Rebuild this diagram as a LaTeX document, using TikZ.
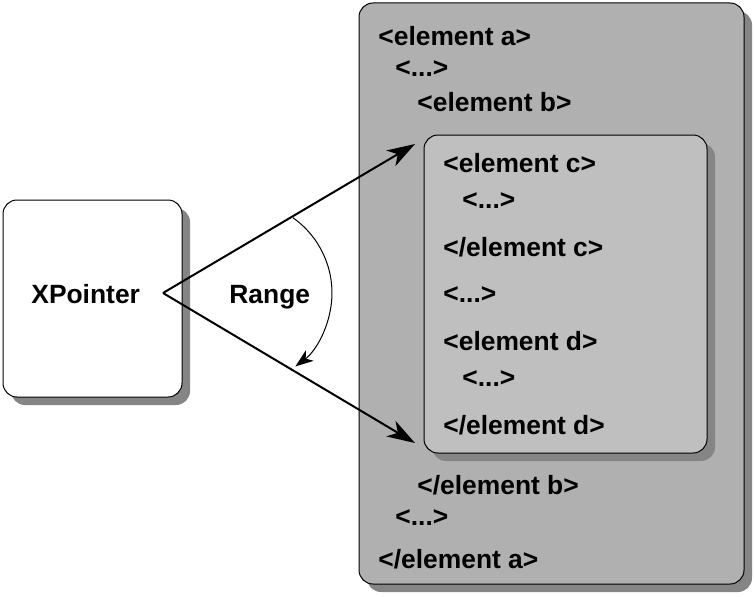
\documentclass[tikz,border=0pt]{standalone}
\usepackage{fontspec}
\setmainfont{Liberation Sans}
\usetikzlibrary{shapes,arrows,arrows.meta,shadows}
\definecolor{docfill}{gray}{0.69}
\definecolor{rangefill}{gray}{0.75}
\definecolor{shade}{gray}{0.52}
\tikzstyle{frame} = [rectangle, draw, line width=0.5pt, rounded corners=7pt,
	drop shadow={shadow xshift=4pt, shadow yshift=-4pt, fill=shade, opacity=1}]
\tikzstyle{tag} = [anchor=base west, inner sep=0pt, font=\fontsize{13.2}{15}\selectfont\bfseries]
\tikzstyle{line} = [draw, line width=1pt, -{Stealth[length=14pt, width=9pt, inset=4pt]}]
\tikzstyle{sweep} = [draw, line width=0.5pt, -{Stealth[length=9pt, width=6.5pt, inset=2.5pt]}]

\begin{document}
\begin{tikzpicture}[x=0.5pt, y=0.5pt]
	\useasboundingbox (0,0) rectangle (754,596);
	% Place nodes
	\node [frame, fill=white, minimum width=89.5pt, minimum height=98.5pt] (xbox) at (92.5,297.5) {};
	\node [frame, fill=docfill, minimum width=192.5pt, minimum height=290.5pt] (doc) at (551.5,302.5) {};
	\node [frame, fill=rangefill, minimum width=141.5pt, minimum height=159pt] (sel) at (565.5,302) {};
	\node [tag] (xptr) at (31,293) {XPointer};
	\node [tag] (range) at (229,293) {Range};
	\node [tag] (ea) at (378,551) {<element a>};
	\node [tag] (dotsa) at (395,520) {<...>};
	\node [tag] (eb) at (417,485) {<element b>};
	\node [tag] (ec) at (443,424) {<element c>};
	\node [tag] (dotsc) at (462,388) {<...>};
	\node [tag] (ecend) at (443,340) {</element c>};
	\node [tag] (dotsb) at (443,294) {<...>};
	\node [tag] (ed) at (443,246) {<element d>};
	\node [tag] (dotsd) at (462,210) {<...>};
	\node [tag] (edend) at (443,162) {</element d>};
	\node [tag] (ebend) at (417,102) {</element b>};
	\node [tag] (dotse) at (395,71) {<...>};
	\node [tag] (eaend) at (378,28) {</element a>};
	\coordinate (apex) at (163,303);
	\coordinate (top) at (415,452);
	\coordinate (bot) at (415,153);
	\coordinate (arcstart) at (293,378.2);
	% Draw edges
	\path [line] (apex) -- (top);
	\path [line] (apex) -- (bot);
	\path [sweep] (arcstart) arc [start angle=54.8, end angle=-53, radius=92];
\end{tikzpicture}
\end{document}
